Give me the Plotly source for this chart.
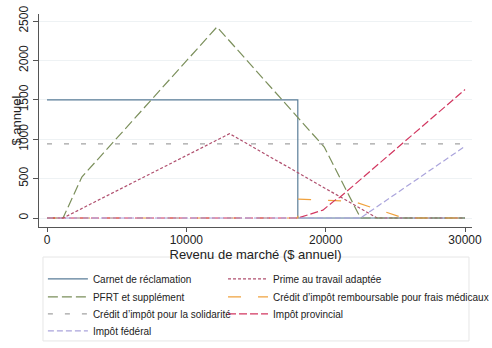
import plotly.graph_objects as go

# ---- data ----
carnet_x = [0, 18000, 18001, 30000]
carnet_y = [1500, 1500, 0, 0]

prime_x = [0, 1150, 13100, 23700, 30000]
prime_y = [0, 0, 1070, 0, 0]

pfrt_x = [0, 1150, 2500, 12200, 19900, 22500, 30000]
pfrt_y = [0, 0, 520, 2425, 900, 0, 0]

medical_x = [0, 18000, 18001, 22000, 25600, 30000]
medical_y = [0, 0, 240, 210, 0, 0]

solid_x = [0, 30000]
solid_y = [940, 940]

prov_x = [0, 18000, 19800, 20700, 21000, 30000]
prov_y = [0, 0, 100, 230, 260, 1630]

fed_x = [0, 22500, 30000]
fed_y = [0, 0, 910]

x_ticks = [0, 10000, 20000, 30000]
y_ticks = [0, 500, 1000, 1500, 2000, 2500]

# (name, x, y, colour, dash, legend column, legend row)
series = [
    ("Carnet de réclamation", carnet_x, carnet_y, "#5a7d98", "solid", 0, 0),
    ("Prime au travail adaptée", prime_x, prime_y, "#b04f6e", "3px,2px", 1, 0),
    ("PFRT et supplément", pfrt_x, pfrt_y, "#7b8f5b", "10px,4px", 0, 1),
    ("Crédit d’impôt remboursable pour frais médicaux", medical_x, medical_y, "#f0a23e", "13px,17px", 1, 1),
    ("Crédit d’impôt pour la solidarité", solid_x, solid_y, "#a3a3a3", "5px,12px", 0, 2),
    ("Impôt provincial", prov_x, prov_y, "#d23760", "8px,3px", 1, 2),
    ("Impôt fédéral", fed_x, fed_y, "#aaa4dc", "6px,3px", 0, 3),
]

col_x = [0.009, 0.425]
row_px = [278, 296, 313, 330]

fig = go.Figure()
legends = {}
for i, (name, xs, ys, col, dash, c, r) in enumerate(series):
    key = "legend" if i == 0 else f"legend{i + 1}"
    fig.add_trace(go.Scatter(x=xs, y=ys, mode="lines", name=name, legend=key,
                             line=dict(color=col, width=1.2, dash=dash)))
    legends[key] = dict(
        orientation="v", xanchor="left", yanchor="top",
        x=col_x[c], y=(227 - (row_px[r] - 13.7)) / 213,
        font=dict(size=10, color="#222"), borderwidth=0,
        bgcolor="rgba(0,0,0,0)", itemwidth=40,
    )

fig.update_layout(
    width=492, height=348,
    margin=dict(l=39, r=20, t=14, b=121, autoexpand=False),
    paper_bgcolor="white", plot_bgcolor="white",
    font=dict(family="Liberation Sans, Arial, sans-serif", color="#222", size=12),
    showlegend=True,
    shapes=[dict(type="rect", xref="paper", yref="paper",
                 x0=0.0092, x1=0.993, y0=-0.535, y1=-0.141,
                 line=dict(color="#e6e6e6", width=1), fillcolor="rgba(0,0,0,0)",
                 layer="below")],
    annotations=[dict(text="$ annuel", xref="paper", yref="paper",
                      x=-0.053, y=0.5, textangle=-90, showarrow=False,
                      font=dict(size=13, color="#222"),
                      xanchor="center", yanchor="middle")],
    xaxis=dict(
        range=[-574, 30502], tickvals=x_ticks, ticktext=[str(v) for v in x_ticks],
        showgrid=False, zeroline=False, showline=True, linecolor="#555", linewidth=1,
        ticks="outside", ticklen=4, tickcolor="#555", tickfont=dict(size=12),
        ticklabelstandoff=-2,
        title=dict(text="Revenu de marché ($ annuel)", font=dict(size=13), standoff=1),
        automargin=False,
    ),
    yaxis=dict(
        range=[-114, 2589], tickvals=y_ticks, ticktext=[str(v) for v in y_ticks],
        showgrid=True, gridcolor="#eef2f4", gridwidth=1, zeroline=False,
        showline=True, linecolor="#555", linewidth=1,
        ticks="outside", ticklen=5, tickcolor="#555", tickangle=-90,
        tickfont=dict(size=12),
        automargin=False,
    ),
    **legends,
)

fig.write_html("out.html")
